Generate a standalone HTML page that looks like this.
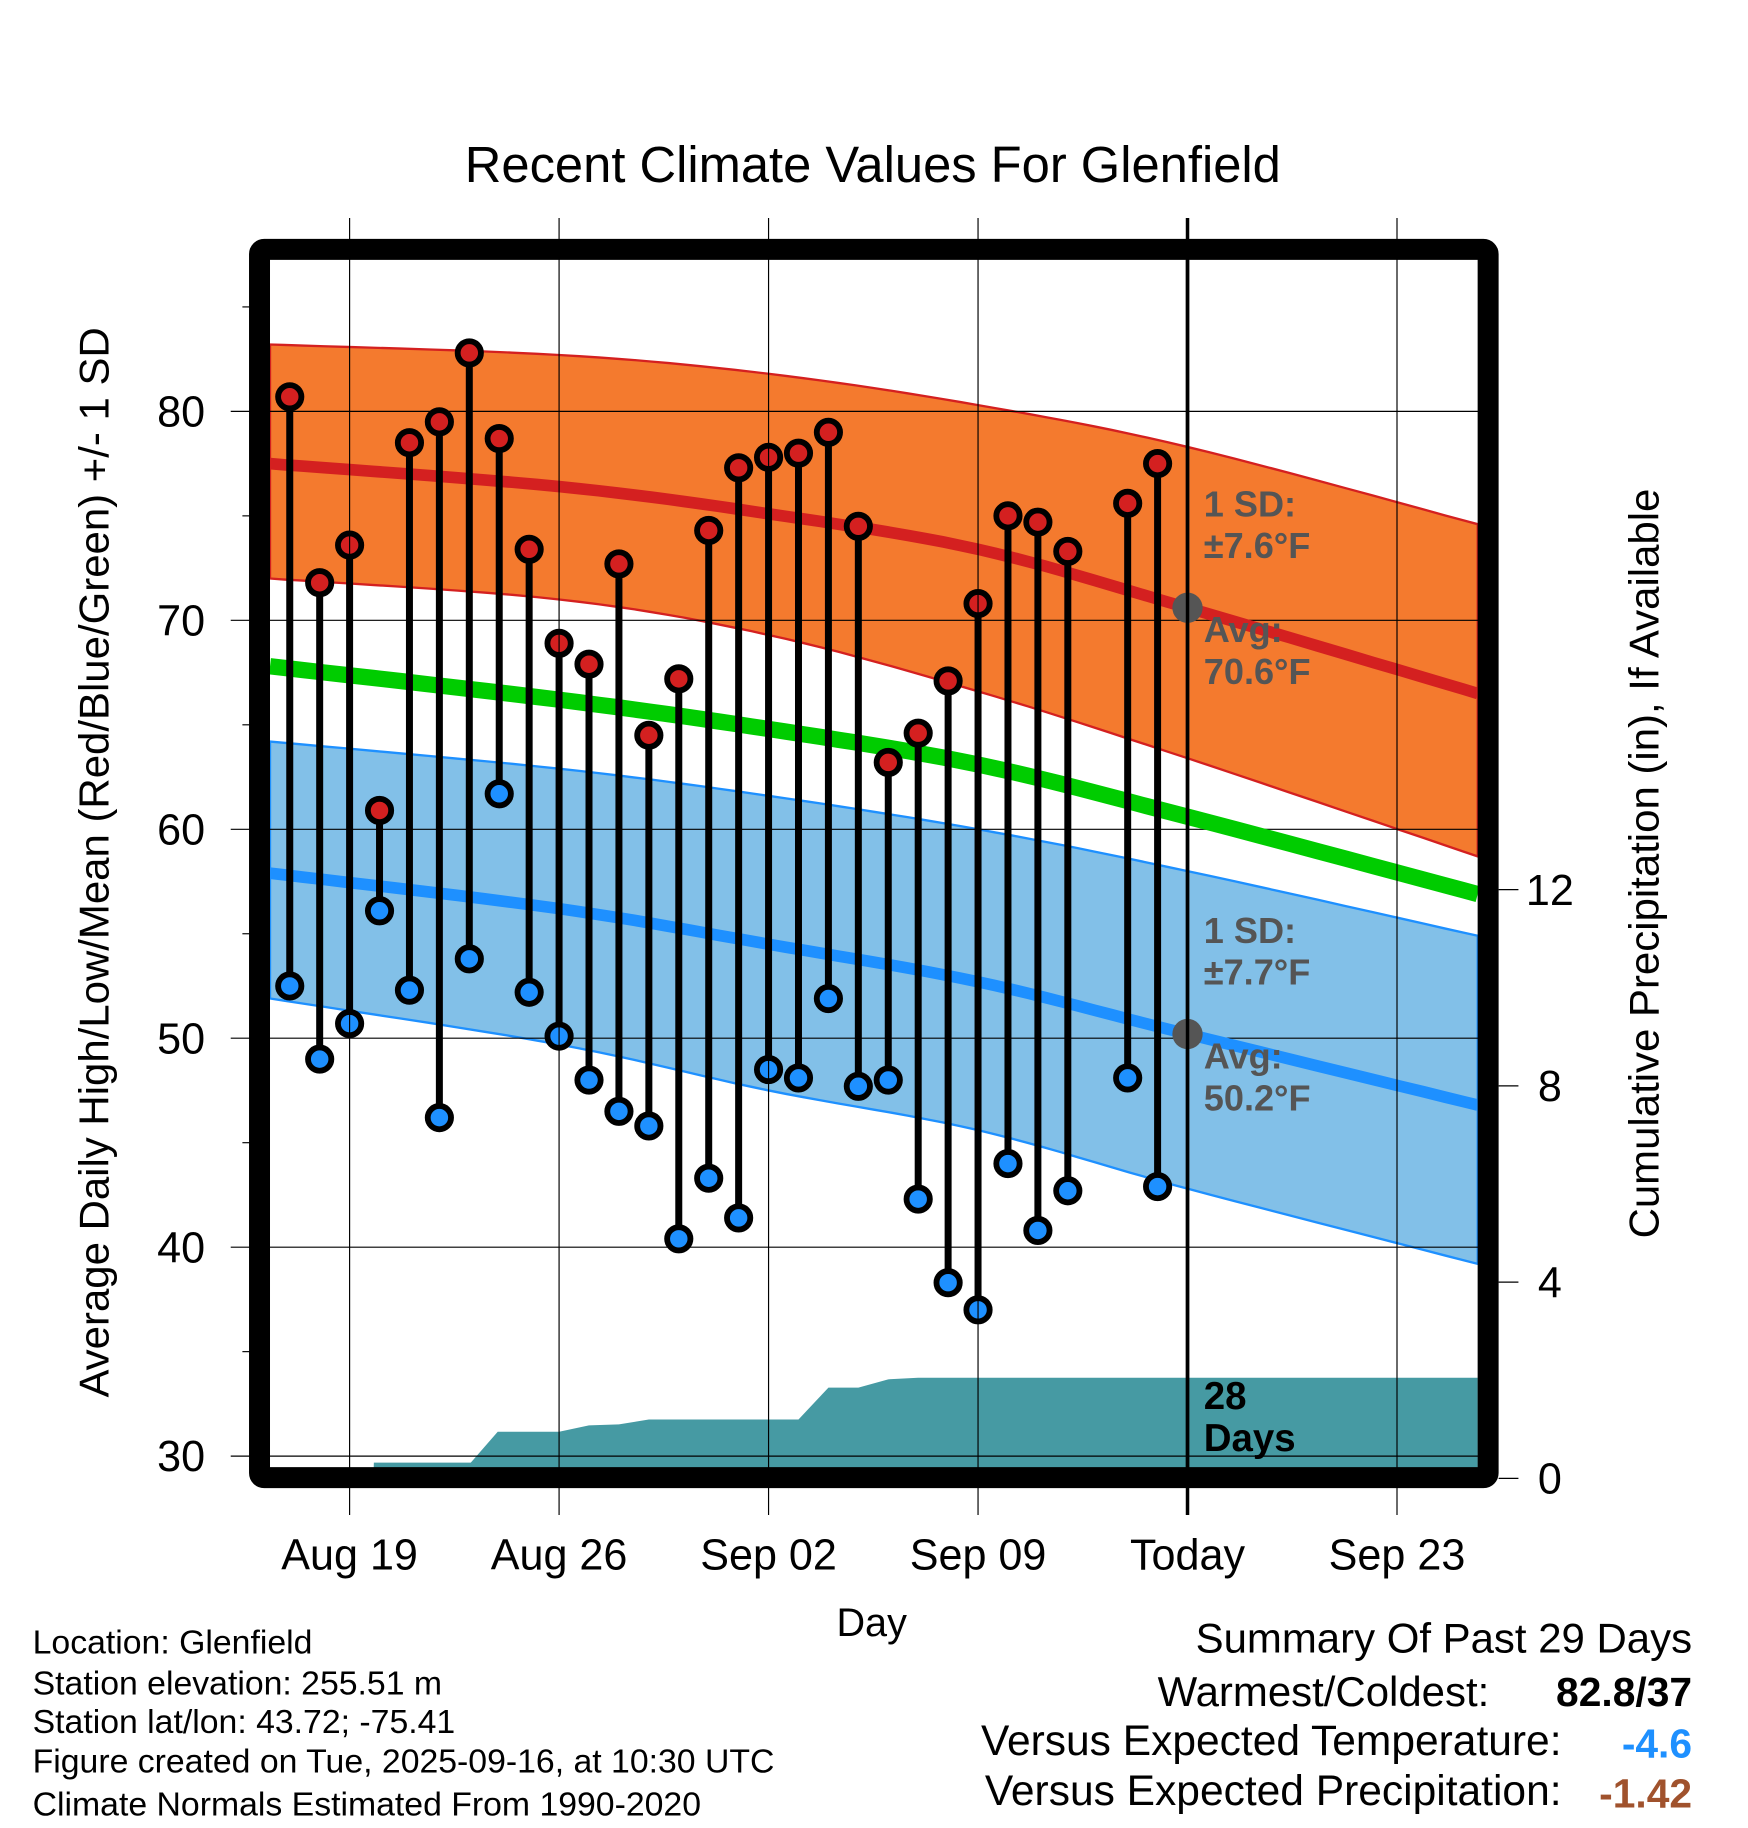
<!DOCTYPE html>
<html><head><meta charset="utf-8"><style>
html,body{margin:0;padding:0;background:#fff;}
svg{display:block;font-family:"Liberation Sans",sans-serif;}
</style></head><body>
<svg id="chart" width="1748" height="1828" viewBox="0 0 1500 1568.6" xmlns="http://www.w3.org/2000/svg">
</svg>
<script>
const dayLabels=["Aug 19","Aug 26","Sep 02","Sep 09","Today","Sep 23"];
const dayTicks=[0,7,14,21,28,35];
const tempTicks=[30,40,50,60,70,80];
const precipTicks=[0,4,8,12];
// observations, day index relative to Aug 19
const obsDays=[-2,-1,0,1,2,3,4,5,6,7,8,9,10,11,12,13,14,15,16,17,18,19,20,21,22,23,24,26,27];
const highs=[80.7,71.8,73.6,60.9,78.5,79.5,82.8,78.7,73.4,68.9,67.9,72.7,64.5,67.2,74.3,77.3,77.8,78.0,79.0,74.5,63.2,64.6,67.1,70.8,75.0,74.7,73.3,75.6,77.5];
const lows=[52.5,49.0,50.7,56.1,52.3,46.2,53.8,61.7,52.2,50.1,48.0,46.5,45.8,40.4,43.3,41.4,48.5,48.1,51.9,47.7,48.0,42.3,38.3,37.0,44.0,40.8,42.7,48.1,42.9];
// normals
const normDays=[-2.66,7,14,21,28,37.7];
const highAvg=[77.5,76.4,75.1,73.4,70.6,66.5];
const highUp=[83.2,82.7,81.8,80.3,78.3,74.6];
const highLo=[72.0,71.0,69.3,66.6,63.4,58.7];
const meanAvg=[67.8,66.2,64.8,63.1,60.6,56.9];
const lowAvg=[57.9,56.2,54.5,52.7,50.2,46.8];
const lowUp=[64.2,62.9,61.6,60.0,58.0,54.9];
const lowLo=[51.9,49.7,47.5,45.6,42.8,39.2];
// cumulative precipitation
const precDays=[-2.66,0.8,0.81,4.05,4.95,7,8,9,10,15,16,17,18,19,37.7];
const precCum=[0,0,0.32,0.32,0.95,0.95,1.08,1.1,1.2,1.2,1.85,1.85,2.02,2.05,2.05];

const L=231.7,R=1268.3,T=223,B=1259.7;
const X=d=>300+d*25.68;
const Y=t=>353+(80-t)*17.93;
const P=p=>1268.6-p*42.1;
const svg=document.getElementById('chart');
const NS="http://www.w3.org/2000/svg";
function mk(tag,attrs,parent){const e=document.createElementNS(NS,tag);for(const k in attrs)e.setAttribute(k,attrs[k]);(parent||svg).appendChild(e);return e;}
function txt(s,attrs){const e=mk('text',attrs);e.textContent=s;return e;}
function pts(days,vals,f){return days.map((d,i)=>X(d).toFixed(1)+","+f(vals[i]).toFixed(1));}
function smooth(days,vals,f){
 const p=days.map((d,i)=>[X(d),f(vals[i])]);const out=[];
 for(let i=0;i<p.length-1;i++){const p0=p[Math.max(0,i-1)],p1=p[i],p2=p[i+1],p3=p[Math.min(p.length-1,i+2)];
  for(let s=0;s<12;s++){const t=s/12,t2=t*t,t3=t2*t;
   const c=(a,b,cc,d)=>0.5*((2*b)+(-a+cc)*t+(2*a-5*b+4*cc-d)*t2+(-a+3*b-3*cc+d)*t3);
   out.push(c(p0[0],p1[0],p2[0],p3[0]).toFixed(1)+","+c(p0[1],p1[1],p2[1],p3[1]).toFixed(1));}}
 const l=p[p.length-1];out.push(l[0].toFixed(1)+","+l[1].toFixed(1));return out;}

const clip=mk('clipPath',{id:'pc'});mk('rect',{x:L,y:T,width:R-L,height:B-T},clip);
const plot=mk('g',{'clip-path':'url(#pc)'});

let e;
e=mk('polygon',{points:smooth(normDays,highUp,Y).concat(smooth(normDays,highLo,Y).reverse()).join(' '),fill:'#f47a2e',stroke:'#d42020','stroke-width':2},plot);

e=mk('polygon',{points:smooth(normDays,lowUp,Y).concat(smooth(normDays,lowLo,Y).reverse()).join(' '),fill:'#82c0e8',stroke:'#1e90ff','stroke-width':2},plot);

e=mk('polygon',{points:pts(precDays,precCum,P).concat([X(37.7)+","+P(0),X(-2.66)+","+P(0)]).join(' '),fill:'#469aa3'},plot);

tempTicks.forEach(t=>{const g=mk('line',{x1:L,x2:R,y1:Y(t),y2:Y(t),stroke:'#000','stroke-width':1},plot);
});
dayTicks.forEach((d,i)=>{const g=mk('line',{x1:X(d),x2:X(d),y1:187,y2:1300,stroke:'#000','stroke-width':i==4?3:1});
});
e=mk('polyline',{points:smooth(normDays,highAvg,Y).join(' '),fill:'none',stroke:'#d42020','stroke-width':10},plot);

e=mk('polyline',{points:smooth(normDays,meanAvg,Y).join(' '),fill:'none',stroke:'#00cc00','stroke-width':14},plot);

e=mk('polyline',{points:smooth(normDays,lowAvg,Y).join(' '),fill:'none',stroke:'#1e90ff','stroke-width':10},plot);

e=mk('line',{x1:X(28),x2:X(28),y1:T,y2:B,stroke:'#000','stroke-width':3},plot);

obsDays.forEach((d,i)=>{
 const s=mk('line',{x1:X(d),x2:X(d),y1:Y(highs[i]),y2:Y(lows[i]),stroke:'#000','stroke-width':6},plot);
 
 const h=mk('circle',{cx:X(d),cy:Y(highs[i]),r:10,fill:'#d42020',stroke:'#000','stroke-width':5},plot);
 
 const l=mk('circle',{cx:X(d),cy:Y(lows[i]),r:10,fill:'#1e90ff',stroke:'#000','stroke-width':5},plot);
 
});
e=mk('circle',{cx:X(28),cy:Y(70.6),r:13,fill:'#555'},plot);
e=mk('circle',{cx:X(28),cy:Y(50.2),r:13,fill:'#555'},plot);
function ann(lines,y0,name,fill,fs){lines.forEach((s,i)=>{const t=txt(s,{x:1033,y:y0+i*36,'font-size':fs,'font-weight':'bold',fill:fill});
});}
ann(["1 SD:","±7.6°F"],443,'high-sd-label','#555',31);
ann(["Avg:","70.6°F"],551,'high-avg-label','#555',31);
ann(["1 SD:","±7.7°F"],809,'low-sd-label','#555',31);
ann(["Avg:","50.2°F"],917,'low-avg-label','#555',31);
ann(["28","Days"],1209,'days-label','#000',33);
e=mk('rect',{x:222.7,y:214,width:1054.3,height:1054,fill:'none',stroke:'#000','stroke-width':18,rx:4});

for(let t=30;t<=85;t+=5){const k=mk('line',{x1:t%10==0?198:208,x2:214,y1:Y(t),y2:Y(t),stroke:'#000','stroke-width':1});
}
tempTicks.forEach(t=>{const k=txt(String(t),{x:176,y:Y(t)+13,'font-size':37,'text-anchor':'end'});
});
precipTicks.forEach(p=>{mk('line',{x1:1286,x2:1303,y1:P(p),y2:P(p),stroke:'#000','stroke-width':1});
const k=txt(String(p),{x:1330,y:P(p)+13,'font-size':37,'text-anchor':'middle'});
});
dayLabels.forEach((s,i)=>{const k=txt(s,{x:X(dayTicks[i]),y:1347,'font-size':37,'text-anchor':'middle'});
});
e=txt("Recent Climate Values For Glenfield",{x:749,y:156,'font-size':43.5,'text-anchor':'middle'});
e=txt("Day",{x:748,y:1404,'font-size':34,'text-anchor':'middle'});
e=txt("Average Daily High/Low/Mean (Red/Blue/Green) +/- 1 SD",{x:0,y:0,'font-size':36,'text-anchor':'middle',transform:'translate(93,740) rotate(-90)'});
e=txt("Cumulative Precipitation (in), If Available",{x:0,y:0,'font-size':36,'text-anchor':'middle',transform:'translate(1423,741) rotate(-90)'});
["Location: Glenfield","Station elevation: 255.51 m","Station lat/lon: 43.72; -75.41","Figure created on Tue, 2025-09-16, at 10:30 UTC","Climate Normals Estimated From 1990-2020"].forEach((s,i)=>{
 const k=txt(s,{x:28,y:[1419,1454,1487,1521,1558][i],'font-size':29});});
e=txt("Summary Of Past 29 Days",{x:1452,y:1418,'font-size':36,'text-anchor':'end'});
e=txt("Warmest/Coldest:",{x:1278,y:1464,'font-size':36,'text-anchor':'end'});
e=txt("82.8/37",{x:1452,y:1464,'font-size':35,'font-weight':'bold','text-anchor':'end'});
e=txt("Versus Expected Temperature:",{x:1340,y:1506,'font-size':36.5,'text-anchor':'end'});
e=txt("-4.6",{x:1452,y:1508,'font-size':35,'font-weight':'bold','text-anchor':'end',fill:'#1e90ff'});
e=txt("Versus Expected Precipitation:",{x:1340,y:1549,'font-size':36.5,'text-anchor':'end'});
e=txt("-1.42",{x:1452,y:1551,'font-size':35,'font-weight':'bold','text-anchor':'end',fill:'#a0522d'});
</script>
</body></html>
